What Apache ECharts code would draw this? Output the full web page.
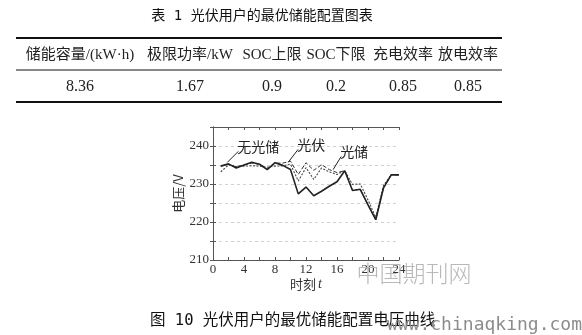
<!DOCTYPE html>
<html>
<head>
<meta charset="utf-8">
<script src="https://cdn.jsdelivr.net/npm/echarts@6/dist/echarts.min.js"></script>
<style>
  html, body { margin: 0; padding: 0; background: #fff; }
  #main { width: 582px; height: 335px; }
</style>
</head>
<body>
<div id="main"></div>
<script>
// Table 1: optimal storage configuration
const tableTitle = '表 1 光伏用户的最优储能配置图表';
const tableHeaders = ['储能容量/(kW·h)', '极限功率/kW', 'SOC上限', 'SOC下限', '充电效率', '放电效率'];
const tableValues = ['8.36', '1.67', '0.9', '0.2', '0.85', '0.85'];

// Figure 10: hourly voltage curves
const hours = [1, 2, 3, 4, 5, 6, 7, 8, 9, 10, 11, 12, 13, 14, 15, 16, 17, 18, 19, 20, 21, 22, 23, 24];
const seriesNames = ['无光储', '光伏', '光储'];
const vNoPV = [234.7, 235.3, 234.2, 235.0, 235.7, 235.2, 233.8, 235.6, 234.9, 233.8, 227.4, 229.2, 226.9, 228.1, 229.4, 230.6, 233.5, 228.3, 228.6, 224.5, 220.6, 229.0, 232.4, 232.4];
const vPV   = [234.7, 235.2, 234.5, 235.0, 235.5, 235.2, 234.0, 235.5, 235.5, 236.0, 232.5, 235.6, 233.6, 235.1, 233.8, 233.0, 233.5, 228.3, 228.6, 224.5, 220.6, 229.0, 232.4, 232.4];
const vPVS  = [233.2, 235.0, 234.6, 234.7, 234.8, 234.7, 234.4, 234.7, 234.8, 235.2, 230.8, 234.3, 231.2, 234.2, 233.2, 232.5, 233.5, 229.9, 230.0, 225.8, 221.2, 229.6, 232.5, 232.5];
const xTicks = [0, 4, 8, 12, 16, 20, 24];
const yTicks = [210, 220, 230, 240];
const figCaption = '图 10 光伏用户的最优储能配置电压曲线';

const CJK = '"Noto Sans CJK SC"';
const SERIF = '"Liberation Serif", "Noto Sans CJK SC"';
const colX = [80, 190, 272, 336, 403, 468];

const chart = echarts.init(document.getElementById('main'), null, { renderer: 'canvas' });

const pair = arr => hours.map((h, i) => [h, arr[i]]);
const gridCommon = { show: false };

const option = {
  backgroundColor: '#fff',
  animation: false,
  grid: { left: 213, right: 183, top: 127, bottom: 75, containLabel: false },
  xAxis: [
    {
      type: 'value', min: 0, max: 24, interval: 2, position: 'bottom',
      name: '时刻{i|t}', nameLocation: 'middle', nameGap: 13,
      nameTextStyle: { fontFamily: CJK, fontSize: 13, color: '#333',
        rich: { i: { fontFamily: '"Liberation Serif"', fontStyle: 'italic', fontSize: 14, color: '#333', padding: [0, 0, 0, 2] } } },
      axisLine: { show: true, lineStyle: { color: '#555', width: 1 } },
      axisTick: { show: true, inside: true, length: 3, lineStyle: { color: '#555' } },
      axisLabel: { margin: 3, fontFamily: SERIF, fontSize: 13, color: '#333',
        formatter: v => (xTicks.indexOf(v) >= 0 ? String(v) : '') },
      splitLine: gridCommon
    },
    {
      type: 'value', min: 0, max: 24, interval: 2, position: 'top',
      axisLine: { show: true, lineStyle: { color: '#555', width: 1 } },
      axisTick: { show: true, inside: true, length: 3, lineStyle: { color: '#555' } },
      axisLabel: { show: false }, splitLine: gridCommon
    }
  ],
  yAxis: [
    {
      type: 'value', min: 210, max: 245, interval: 5, position: 'left',
      name: '电压/V', nameLocation: 'middle', nameGap: 28, nameRotate: 90,
      nameTextStyle: { fontFamily: CJK, fontSize: 13, color: '#333' },
      axisLine: { show: true, lineStyle: { color: '#555', width: 1 } },
      axisTick: { show: true, inside: true, length: 3, lineStyle: { color: '#555' } },
      axisLabel: { margin: 4, fontFamily: SERIF, fontSize: 13, color: '#333',
        formatter: v => (yTicks.indexOf(v) >= 0 ? String(v) : '') },
      splitLine: { show: true, lineStyle: { color: '#d2d2d2', type: [3, 3], width: 1 } }
    },
    {
      type: 'value', min: 210, max: 245, interval: 5, position: 'right',
      axisLine: { show: true, lineStyle: { color: '#555', width: 1 } },
      axisTick: { show: true, inside: true, length: 3, lineStyle: { color: '#555' } },
      axisLabel: { show: false }, splitLine: gridCommon
    }
  ],
  series: [
    {
      name: seriesNames[0], type: 'line', data: pair(vNoPV), symbol: 'none',
      lineStyle: { color: '#222', width: 1.6 }, z: 4
    },
    {
      name: seriesNames[1], type: 'line', data: pair(vPV), symbol: 'none',
      lineStyle: { color: '#333', width: 1, type: [4, 2] }, z: 3
    },
    {
      name: seriesNames[2], type: 'line', data: pair(vPVS), symbol: 'none',
      lineStyle: { color: '#444', width: 1.1, type: [2, 1.5] }, z: 2
    }
  ]
};
chart.setOption(option);

// Series annotations with leader lines, anchored in data space
const notes = [
  { text: seriesNames[0], at: [1.85, 235.7], dx: 11, dy: -11 },
  { text: seriesNames[1], at: [9.7, 235.7], dx: 10, dy: -13 },
  { text: seriesNames[2], at: [15.5, 233.8], dx: 8, dy: -13 }
];

const graphics = [];
notes.forEach(n => {
  const p = chart.convertToPixel({ gridIndex: 0 }, n.at);
  const q = [p[0] + n.dx, p[1] + n.dy];
  graphics.push({
    type: 'line', silent: true, z: 10,
    shape: { x1: p[0], y1: p[1], x2: q[0], y2: q[1] },
    style: { stroke: '#222', lineWidth: 1 }
  });
  graphics.push({
    type: 'text', silent: true, z: 10,
    x: q[0] - 1, y: q[1] - 5,
    style: { text: n.text, fontFamily: CJK, fontSize: 14, fill: '#222', textAlign: 'left', textVerticalAlign: 'middle' }
  });
});

// Table block
graphics.push({
  type: 'text', x: 262, y: 16,
  style: { text: tableTitle, fontFamily: '"DejaVu Sans Mono", "Noto Sans CJK SC"', fontSize: 14, fill: '#111', textAlign: 'center', textVerticalAlign: 'middle' }
});
[[38, 2], [70, 1], [102, 2]].forEach(r => {
  graphics.push({
    type: 'line', shape: { x1: 16, y1: r[0], x2: 502, y2: r[0] },
    style: { stroke: '#111', lineWidth: r[1] }
  });
});
tableHeaders.forEach((h, i) => {
  graphics.push({
    type: 'text', x: colX[i], y: 55,
    style: { text: h, fontFamily: SERIF, fontSize: 15, fill: '#222', textAlign: 'center', textVerticalAlign: 'middle' }
  });
});
tableValues.forEach((v, i) => {
  graphics.push({
    type: 'text', x: colX[i], y: 87,
    style: { text: v, fontFamily: SERIF, fontSize: 16, fill: '#222', textAlign: 'center', textVerticalAlign: 'middle' }
  });
});

// Watermark and caption
graphics.push({
  type: 'text', x: 414, y: 273, z: 1,
  style: { text: '中国期刊网', fontFamily: CJK, fontWeight: 300, fontSize: 23, fill: '#b8b8b8', textAlign: 'center', textVerticalAlign: 'middle' }
});
graphics.push({
  type: 'text', x: 150, y: 321,
  style: { text: figCaption, fontFamily: '"DejaVu Sans Mono", "Noto Sans CJK SC"', fontSize: 15.5, fill: '#111', textAlign: 'left', textVerticalAlign: 'middle' }
});
graphics.push({
  type: 'text', x: 582, y: 325,
  style: { text: 'www.chinaqking.com', fontFamily: '"DejaVu Sans Mono"', fontSize: 18, fill: '#8c8c8c', textAlign: 'right', textVerticalAlign: 'middle' }
});

chart.setOption({ graphic: graphics });
</script>
</body>
</html>
